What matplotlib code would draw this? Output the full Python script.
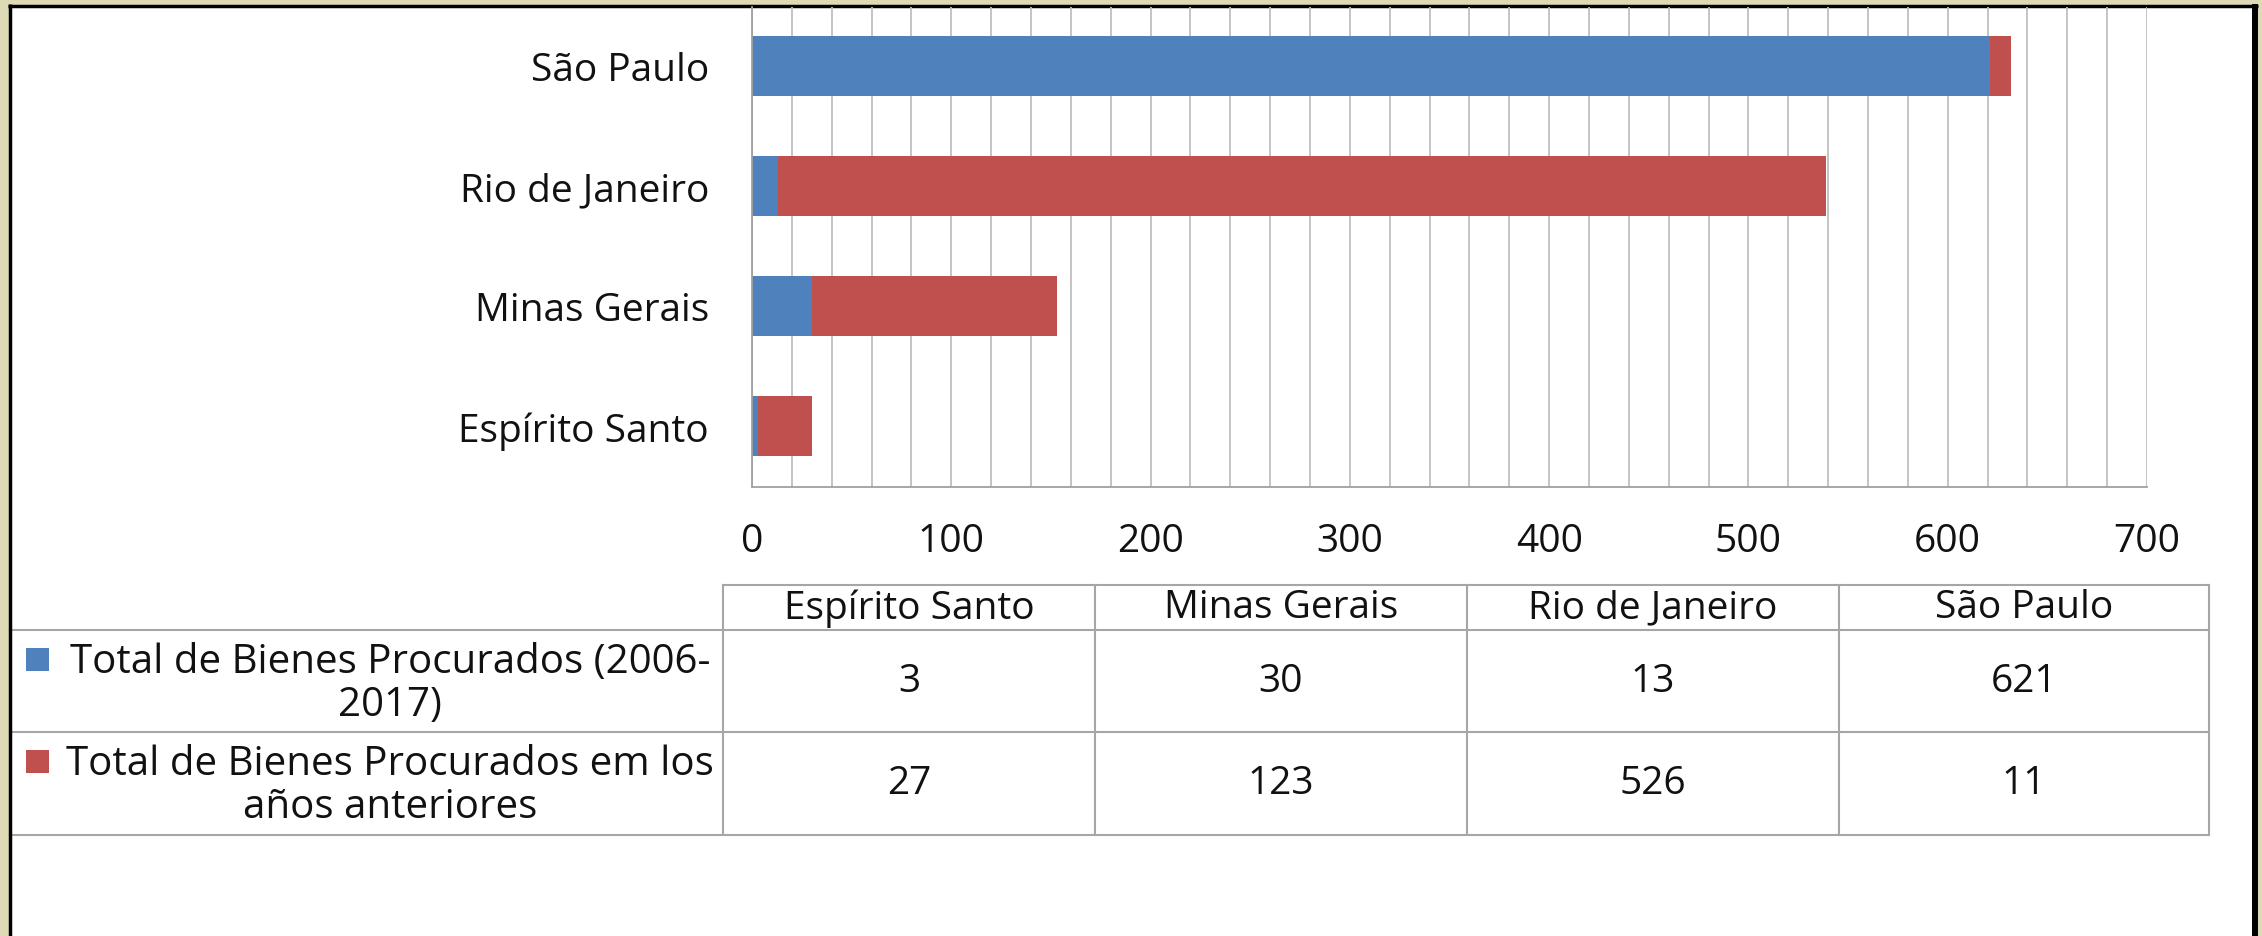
import matplotlib
matplotlib.use("Agg")
import matplotlib.pyplot as plt
from matplotlib.patches import Rectangle
from matplotlib.lines import Line2D

# ---------------- data ----------------
states = ["Espírito Santo", "Minas Gerais", "Rio de Janeiro", "São Paulo"]
series_names = ["Total de Bienes Procurados (2006-\n2017)",
                "Total de Bienes Procurados em los\naños anteriores"]
recent = [3, 30, 13, 621]
previous = [27, 123, 526, 11]
x_ticks = [0, 100, 200, 300, 400, 500, 600, 700]

BLUE = "#4F81BD"
RED = "#C0504D"
BEIGE = "#DEDAB6"
GRID = "#BFBFBF"
TLINE = "#A6A6A6"
FONT = "Open Sans"
FS = 28

W, H = 2262, 937
fig = plt.figure(figsize=(W / 100, H / 100), dpi=100)
fig.patch.set_facecolor(BEIGE)
plt.rcParams["font.family"] = [FONT, "DejaVu Sans"]

# pixel-coordinate background layer (frame + table)
bg = fig.add_axes([0, 0, 1, 1], zorder=0)
bg.set_xlim(0, W)
bg.set_ylim(H, 0)
bg.axis("off")
bg.add_patch(Rectangle((9.5, 6.5), 2245, 1000, facecolor="white",
                       edgecolor="none"))

# ---------------- chart ----------------
ax_l, ax_r, ax_t, ax_b = 752, 2147, 8, 488
ax = fig.add_axes([ax_l / W, 1 - ax_b / H, (ax_r - ax_l) / W, (ax_b - ax_t) / H],
                  zorder=1)
ax.set_facecolor("none")
ypos = list(range(len(states)))
ax.barh(ypos, recent, height=0.5, color=BLUE, zorder=3)
ax.barh(ypos, previous, left=recent, height=0.5, color=RED, zorder=3)
ax.set_xlim(0, 700)
ax.set_ylim(-0.51, 3.49)
ax.set_xticks(x_ticks)
ax.set_xticks(range(0, 701, 20), minor=True)
ax.set_yticks(ypos)
ax.set_yticklabels(states)
ax.grid(axis="x", which="both", color=GRID, linewidth=1.3, zorder=0)
ax.tick_params(axis="both", which="both", length=0, labelsize=FS,
               labelcolor="#111111")
ax.tick_params(axis="x", pad=25)
ax.tick_params(axis="y", pad=31)
for s in ["top", "right"]:
    ax.spines[s].set_visible(False)
for s in ["left", "bottom"]:
    ax.spines[s].set_color("#A0A0A0")
    ax.spines[s].set_linewidth(1.3)
    ax.spines[s].set_zorder(4)

# ---------------- data table ----------------
col_edges = [723, 1095, 1467, 1839, 2209]
row_y = [586, 631, 733, 836]
lkw = dict(color=TLINE, linewidth=1.5)
bg.add_line(Line2D([col_edges[0], col_edges[-1]], [row_y[0]] * 2, **lkw))
for y in row_y[1:]:
    bg.add_line(Line2D([11, col_edges[-1]], [y, y], **lkw))
for x in col_edges:
    bg.add_line(Line2D([x, x], [row_y[0], row_y[-1]], **lkw))

for i, name in enumerate(states):
    cx = (col_edges[i] + col_edges[i + 1]) / 2
    bg.text(cx, (row_y[0] + row_y[1]) / 2, name, ha="center", va="center",
            fontsize=FS, color="#111111")
    for r, vals in enumerate([recent, previous]):
        cy = (row_y[r + 1] + row_y[r + 2]) / 2
        bg.text(cx, cy, str(vals[i]), ha="center", va="center",
                fontsize=FS, color="#111111")

for r, (name, col) in enumerate(zip(series_names, [BLUE, RED])):
    cy = (row_y[r + 1] + row_y[r + 2]) / 2
    top = row_y[r + 1] + 18
    bg.add_patch(Rectangle((26, top), 23, 23, facecolor=col, edgecolor="none"))
    bg.text(390, cy + 2, name, ha="center", va="center", multialignment="center",
            fontsize=29, color="#111111", linespacing=1.08)

# ---------------- black frame ----------------
fkw = dict(color="black", linewidth=2.5, solid_capstyle="butt")
bg.add_line(Line2D([9.5, 9.5], [5, H + 5], **fkw))
bg.add_line(Line2D([8, 2258], [6.5, 6.5], **fkw))
bg.add_line(Line2D([2255, 2255], [5, H + 5], color="black", linewidth=4.3,
                   solid_capstyle="butt"))

fig.savefig("out.png", dpi=100, facecolor=BEIGE)
